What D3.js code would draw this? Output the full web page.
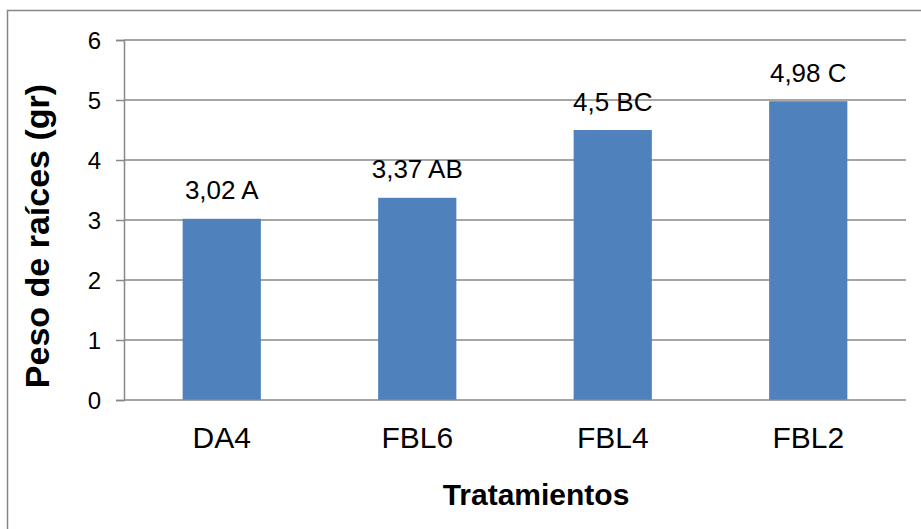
<!DOCTYPE html>
<html>
<head>
<meta charset="utf-8">
<script src="https://cdn.jsdelivr.net/npm/d3@7"></script>
<style>
  html, body { margin: 0; padding: 0; background: #fff; }
  svg { display: block; }
  text { font-family: "Liberation Sans", Arial, sans-serif; fill: #000; }
</style>
</head>
<body>
<svg id="chart" width="921" height="529"></svg>
<script>
// Root weight per treatment, with the significance letters from the mean comparison
const categories = ["DA4", "FBL6", "FBL4", "FBL2"];
const values = [3.02, 3.37, 4.5, 4.98];
const valueLabels = ["3,02 A", "3,37 AB", "4,5 BC", "4,98 C"];
const yTicks = [0, 1, 2, 3, 4, 5, 6];
const xTitle = "Tratamientos";
const yTitle = "Peso de raíces (gr)";

const svg = d3.select("#chart");
const gridColor = "#888888";

// chart frame (runs past the right and bottom edges of the page)
svg.append("rect")
  .attr("x", 7.5).attr("y", 10.5)
  .attr("width", 940).attr("height", 540)
  .attr("fill", "#fff")
  .attr("stroke", "#878787")
  .attr("stroke-width", 1.5);

const plot = { left: 124, right: 906, top: 40, bottom: 400 };

const x = d3.scaleBand()
  .domain(categories)
  .range([plot.left, plot.right])
  .paddingInner(0.6)
  .paddingOuter(0.3);

const y = d3.scaleLinear()
  .domain([0, 6])
  .range([plot.bottom, plot.top]);

// horizontal gridlines
svg.append("g")
  .selectAll("line")
  .data(yTicks.filter(d => d > 0))
  .join("line")
  .attr("x1", plot.left).attr("x2", plot.right)
  .attr("y1", d => y(d)).attr("y2", d => y(d))
  .attr("stroke", gridColor)
  .attr("stroke-width", 1.5);

// bars
svg.append("g")
  .selectAll("rect")
  .data(values)
  .join("rect")
  .attr("x", (d, i) => x(categories[i]))
  .attr("width", x.bandwidth())
  .attr("y", d => y(d))
  .attr("height", d => y(0) - y(d))
  .attr("fill", "#4F81BD");

// value labels above the bars
svg.append("g")
  .selectAll("text")
  .data(values)
  .join("text")
  .attr("x", (d, i) => x(categories[i]) + x.bandwidth() / 2)
  .attr("y", d => y(d) - 19.5)
  .attr("text-anchor", "middle")
  .style("font-size", "26px")
  .text((d, i) => valueLabels[i]);

// y axis
const yAxis = d3.axisLeft(y).tickValues(yTicks).tickSize(8).tickPadding(15)
  .tickFormat(d3.format("d"));
const gy = svg.append("g")
  .attr("transform", `translate(${plot.left},0)`)
  .call(yAxis);
gy.select(".domain").attr("stroke", gridColor).attr("stroke-width", 1.5);
gy.selectAll(".tick line").attr("stroke", gridColor).attr("stroke-width", 1.5);
gy.selectAll(".tick text")
  .style("font-size", "24px")
  .style("font-family", "'Liberation Sans', Arial, sans-serif")
  .attr("fill", "#000")
  .attr("dy", "0.36em");

// x axis baseline and category labels
const xAxis = d3.axisBottom(x).tickSize(0).tickPadding(27);
const gx = svg.append("g")
  .attr("transform", `translate(0,${plot.bottom})`)
  .call(xAxis);
gx.select(".domain").attr("stroke", gridColor).attr("stroke-width", 1.5)
  .attr("d", `M${plot.left},0H${plot.right}`);
gx.selectAll(".tick text")
  .style("font-size", "30px")
  .style("font-family", "'Liberation Sans', Arial, sans-serif")
  .attr("fill", "#000");

// axis titles
svg.append("text")
  .attr("x", 536)
  .attr("y", 505)
  .attr("text-anchor", "middle")
  .style("font-size", "30px")
  .style("font-weight", "bold")
  .text(xTitle);

svg.append("text")
  .attr("transform", `translate(49,236) rotate(-90)`)
  .attr("text-anchor", "middle")
  .style("font-size", "34px")
  .style("font-weight", "bold")
  .text(yTitle);
</script>
</body>
</html>
